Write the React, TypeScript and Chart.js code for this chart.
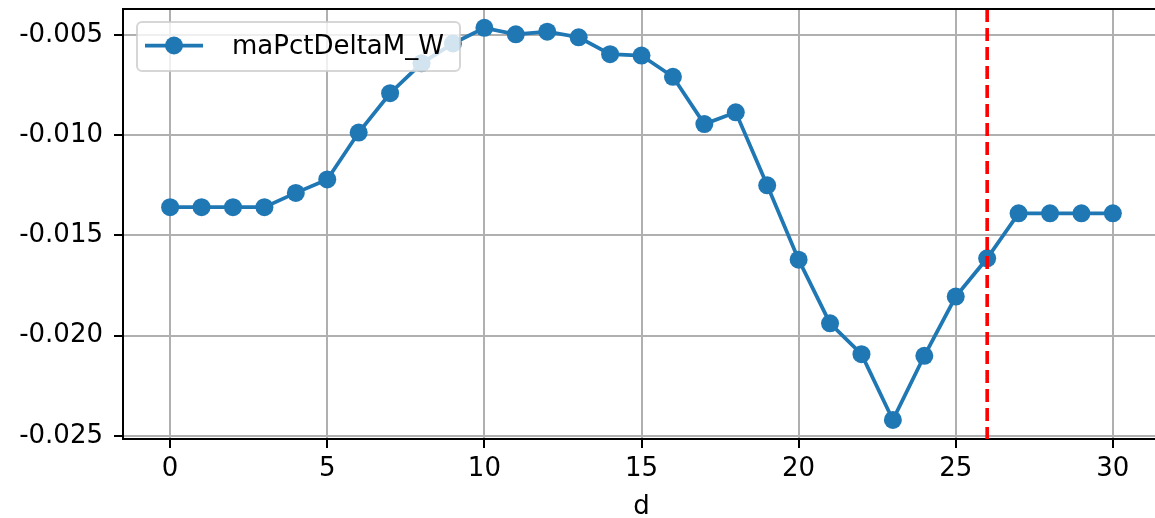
import React, { useEffect, useRef } from "react";
import { Chart, registerables } from "chart.js";

Chart.register(...registerables);

// ---- data ----
const dValues = [
  0, 1, 2, 3, 4, 5, 6, 7, 8, 9, 10, 11, 12, 13, 14, 15,
  16, 17, 18, 19, 20, 21, 22, 23, 24, 25, 26, 27, 28, 29, 30,
];
const maPctDeltaM_W = [
  -0.01359, -0.01359, -0.01359, -0.01359, -0.01288, -0.01221, -0.00987, -0.00791,
  -0.00642, -0.00543, -0.00465, -0.00497, -0.00484, -0.00512, -0.00596, -0.00603,
  -0.00709, -0.00945, -0.00886, -0.0125, -0.01621, -0.01938, -0.02092, -0.0242,
  -0.021, -0.01805, -0.01614, -0.0139, -0.0139, -0.0139, -0.0139,
];
const seriesLabel = "maPctDeltaM_W";
const xTitle = "d";
const xTicks = [0, 5, 10, 15, 20, 25, 30];
const yTicks = [-0.025, -0.02, -0.015, -0.01, -0.005];
const markerD = [26];

const BLUE = "#1f77b4";
const FONT = '"DejaVu Sans", sans-serif';
const FS = 26;
const CW = 1170;
const CH = 540;

const extrasPlugin = {
  id: "extras",
  afterDatasetsDraw(chart: any) {
    const ctx = chart.ctx;
    const ca = chart.chartArea;
    const xs = chart.scales.x;
    ctx.save();
    // red dashed vertical marker
    ctx.strokeStyle = "#ff0000";
    ctx.lineWidth = 3.6;
    ctx.setLineDash([13, 6]);
    markerD.forEach((d) => {
      const px = xs.getPixelForValue(d);
      ctx.beginPath();
      ctx.moveTo(px, ca.top);
      ctx.lineTo(px, ca.bottom);
      ctx.stroke();
    });
    ctx.setLineDash([]);
    // top & right spines
    ctx.strokeStyle = "#000";
    ctx.lineWidth = 2;
    ctx.beginPath();
    ctx.moveTo(ca.left - 1, ca.top);
    ctx.lineTo(ca.right, ca.top);
    ctx.lineTo(ca.right, ca.bottom);
    ctx.stroke();

    // legend
    const lx = ca.left + 14;
    const ly = ca.top + 13;
    const lw = 323;
    const lh = 49;
    ctx.beginPath();
    (ctx as any).roundRect(lx, ly, lw, lh, 5);
    ctx.fillStyle = "rgba(255,255,255,0.8)";
    ctx.fill();
    ctx.strokeStyle = "rgba(204,204,204,0.8)";
    ctx.lineWidth = 2;
    ctx.stroke();
    const cy = ly + 23.5;
    ctx.strokeStyle = BLUE;
    ctx.lineWidth = 3.75;
    ctx.beginPath();
    ctx.moveTo(lx + 8, cy);
    ctx.lineTo(lx + 66, cy);
    ctx.stroke();
    ctx.fillStyle = BLUE;
    ctx.beginPath();
    ctx.arc(lx + 37, cy, 9, 0, Math.PI * 2);
    ctx.fill();
    ctx.fillStyle = "#000";
    ctx.font = `${FS}px ${FONT}`;
    ctx.textAlign = "left";
    ctx.textBaseline = "alphabetic";
    ctx.fillText(chart.data.datasets[0].label, lx + 95, ly + 32);
    ctx.restore();
  },
};

export default function App() {
  const ref = useRef<HTMLCanvasElement>(null);
  useEffect(() => {
    const points = dValues.map((d, i) => ({ x: d, y: maPctDeltaM_W[i] }));
    const chart = new Chart(ref.current as HTMLCanvasElement, {
      type: "line",
      data: {
        datasets: [
          {
            label: seriesLabel,
            data: points,
            borderColor: BLUE,
            backgroundColor: BLUE,
            borderWidth: 3.75,
            pointRadius: 9,
            pointBorderWidth: 0,
            pointBackgroundColor: BLUE,
            tension: 0,
            fill: false,
          },
        ],
      },
      options: {
        animation: false,
        responsive: false,
        devicePixelRatio: 1,
        layout: { padding: { top: 7, right: 10, left: 0, bottom: 0 } },
        plugins: {
          legend: { display: false },
          tooltip: { enabled: false },
        },
        scales: {
          x: {
            type: "linear",
            min: -1.5,
            max: 31.5,
            afterBuildTicks: (s: any) => {
              s.ticks = xTicks.map((v) => ({ value: v }));
            },
            afterFit: (s: any) => {
              s.height = CH - 439;
              s.paddingLeft = 0;
              s.paddingRight = 0;
            },
            ticks: {
              autoSkip: false,
              maxRotation: 0,
              color: "#000",
              padding: 6,
              font: { family: FONT, size: FS },
              callback: (v: any) => String(v),
            },
            grid: {
              color: "#b0b0b0",
              lineWidth: 2,
              tickColor: "#000",
              tickLength: 9,
              tickWidth: 2,
            },
            border: { display: true, color: "#000", width: 2 },
            title: {
              display: true,
              text: xTitle,
              color: "#000",
              font: { family: FONT, size: FS },
              padding: { top: 0, bottom: 17 },
            },
          },
          y: {
            type: "linear",
            min: -0.02515,
            max: -0.00371,
            afterBuildTicks: (s: any) => {
              s.ticks = yTicks.map((v) => ({ value: v }));
            },
            afterFit: (s: any) => {
              s.width = 123;
              s.paddingTop = 0;
              s.paddingBottom = 0;
            },
            ticks: {
              color: "#000",
              padding: 11,
              font: { family: FONT, size: FS },
              callback: (v: any) => Number(v).toFixed(3),
            },
            grid: {
              color: "#b0b0b0",
              lineWidth: 2,
              tickColor: "#000",
              tickLength: 9,
              tickWidth: 2,
            },
            border: { display: true, color: "#000", width: 2 },
          },
        },
      },
      plugins: [extrasPlugin],
    });
    return () => chart.destroy();
  }, []);
  return (
    <div
      style={{
        position: "fixed",
        left: 0,
        top: 0,
        width: 1155,
        height: 518,
        overflow: "hidden",
        background: "#fff",
      }}
    >
      <canvas
        ref={ref}
        width={CW}
        height={CH}
        style={{ display: "block", width: CW, height: CH }}
      />
    </div>
  );
}
